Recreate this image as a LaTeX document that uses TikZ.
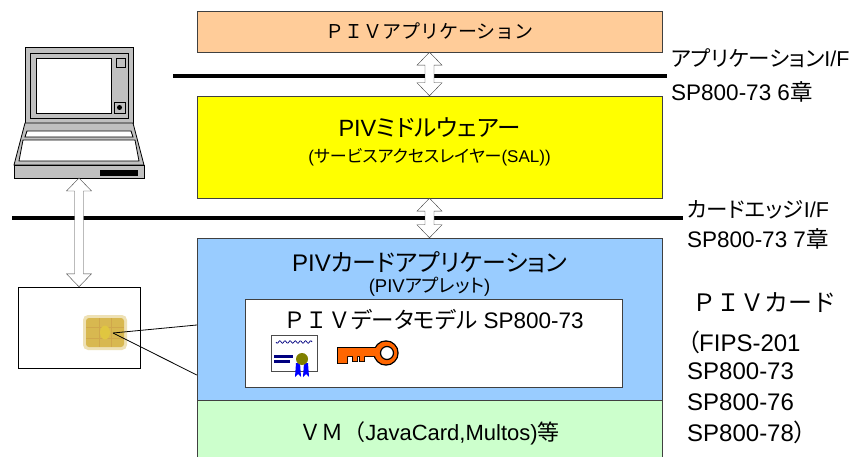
\documentclass[tikz,border=0pt]{standalone}
\usepackage{fontspec}
\setmainfont{Liberation Sans}
\newfontfamily\jp{Noto Sans CJK JP}[RawFeature=+palt]
\newfontfamily\jpmono{Noto Sans CJK JP}
\usetikzlibrary{calc,positioning}

\definecolor{appfill}{HTML}{FFCC99}
\definecolor{mwfill}{HTML}{FFFF00}
\definecolor{cardfill}{HTML}{99CCFF}
\definecolor{vmfill}{HTML}{CCFFCC}
\definecolor{keyorange}{HTML}{FF6600}
\definecolor{pcgray}{HTML}{C0C0C0}
\definecolor{chipgold}{HTML}{D8B850}
\definecolor{sealolive}{HTML}{808000}

\tikzstyle{layer}=[draw=black!75, minimum width=465pt, inner sep=0pt]
\tikzstyle{ifline}=[line width=4pt]
\tikzstyle{pc}=[draw=black, fill=pcgray, line width=0.8pt]
\tikzstyle{label}=[inner sep=0pt, font=\fontsize{21.5}{21.5}\selectfont]
\tikzstyle{spec}=[inner sep=0pt, anchor=west, font=\fontsize{24}{24}\selectfont]

% hollow double arrow, #1 above #2
\newcommand\updown[2]{%
  \draw[fill=white, draw=black!75] let \p1=(#1), \p2=(#2) in
    (\x1,\y1) -- (\x1+12.5pt,\y1-13pt) -- (\x1+4.5pt,\y1-13pt) -- (\x1+4.5pt,\y2+13pt)
    -- (\x1+12.5pt,\y2+13pt) -- (\x1,\y2) -- (\x1-12.5pt,\y2+13pt) -- (\x1-4.5pt,\y2+13pt)
    -- (\x1-4.5pt,\y1-13pt) -- (\x1-12.5pt,\y1-13pt) -- cycle;}

\begin{document}
\begin{tikzpicture}[x=1pt, y=-1pt]
    \clip (0,0) rectangle (854,457);

    % layers
    \node[layer, fill=appfill, minimum height=41pt] (app) at (429.5,31.5) {};
    \node[layer, fill=mwfill, minimum height=102pt] (mw) at (429.5,147) {};
    \node[layer, fill=cardfill, minimum height=162pt] (cardapp) at (429.5,319) {};
    \node[layer, fill=vmfill, minimum height=70pt, anchor=north] (vm) at (cardapp.south) {};
    \node[draw=black!75, fill=white, minimum width=377pt, minimum height=88pt, inner sep=0pt] (model) at (433.5,343) {};

    \node[label, font=\jpmono\fontsize{19}{19}\selectfont] (apptext) at (app) {ＰＩＶアプリケーション};
    \node[label, font=\fontsize{23.5}{23.5}\selectfont] (mwtext) at (429.5,128) {PIV{\jp ミドルウェアー}};
    \node[label, font=\fontsize{17}{17}\selectfont] (saltext) at (429.5,157) {({\jp サービスアクセスレイヤー}(SAL))};
    \node[label, font=\fontsize{24}{24}\selectfont] (cardtext) at (429.5,262) {PIV{\jp カードアプリケーション}};
    \node[label, font=\fontsize{18.5}{18.5}\selectfont] (applet) at (429.5,287) {(PIV{\jp アプレット})};
    \node[label, font=\fontsize{22.5}{22.5}\selectfont] (modeltext) at (433.5,320) {{\jpmono ＰＩＶ}{\jp データモデル} SP800-73};
    \node[label, font=\fontsize{22}{22}\selectfont] (vmtext) at (429.5,433) {{\jpmono ＶＭ（}JavaCard,Multos){\jp 等}};

    % interfaces
    \draw[ifline] (173,76) -- (667,76);
    \draw[ifline] (12,218) -- (683,218);
    \updown{app.south}{mw.north}
    \updown{mw.south}{cardapp.north}

    \node[label, anchor=west] (apif) at (671,58) {{\jp アプリケーション}I/F};
    \node[label, anchor=west, font=\fontsize{22.5}{22.5}\selectfont] (apsp) at (671,92) {SP800-73 6{\jp 章}};
    \node[label, anchor=west] (edgeif) at (687,210) {{\jp カードエッジ}I/F};
    \node[label, anchor=west, font=\fontsize{22.5}{22.5}\selectfont] (edgesp) at (687,239) {SP800-73 7{\jp 章}};

    \node[label, anchor=west, font=\jpmono\fontsize{24}{24}\selectfont] (pivcard) at (692,303) {ＰＩＶカード};
    \foreach \y/\spec in {342/{{\jp （}FIPS-201}, 371/SP800-73, 402/SP800-76, 432/{SP800-78{\jp ）}}}
        \node[spec] (spec\y) at (687,\y) {\spec};

    % certificate
    \filldraw[fill=white, draw=black!70] (271,335) rectangle (317,371);
    \draw[blue!50!black, line width=0.7pt] plot[domain=0:36, samples=40] (276+\x, {342+1.3*sin(\x*70)});
    \fill[blue!50!black] (274,355) rectangle (293,358);
    \fill[blue!50!black] (274,360) rectangle (290,363);
    \fill[blue] (296,363) -- (300,363) -- (301,377) -- (298,374) -- (295,377) -- cycle;
    \fill[blue] (304,363) -- (308,363) -- (309,377) -- (306,374) -- (303,377) -- cycle;
    \fill[sealolive] (302,359) circle (6pt);

    % key
    \filldraw[fill=keyorange, draw=black, line width=1.4pt]
        (338,348) -- (378,348) -- (378,356) -- (364,356) -- (364,361) -- (360,361) -- (360,356)
        -- (357,356) -- (357,361) -- (353,361) -- (353,356) -- (347,356) -- (347,363) -- (338,363) -- cycle;
    \filldraw[fill=keyorange, draw=black, line width=1.4pt] (386,353) circle (12pt);
    \fill[keyorange] (338,348) -- (378,348) -- (378,356) -- (364,356) -- (364,361) -- (360,361) -- (360,356)
        -- (357,356) -- (357,361) -- (353,361) -- (353,356) -- (347,356) -- (347,363) -- (338,363) -- cycle;
    \fill[keyorange] (386,353) circle (11.3pt);
    \filldraw[fill=white, draw=black, line width=1.2pt] (387,353) circle (6.5pt);

    % laptop
    \draw[pc] (25,47) rectangle (133,123);
    \draw[pc] (30,53) rectangle (128,118);
    \draw[pc, fill=white] (36,58) rectangle (111,113);
    \draw[pc] (116,58) rectangle (125,67);
    \draw[pc] (114,102) rectangle (125,113);
    \fill (119.5,107.5) circle (2.5pt);
    \draw[pc] (25,123) -- (133,123) -- (144,165) -- (14,165) -- cycle;
    \draw[pc, fill=white] (27,131) -- (131,131) -- (133,137) -- (25,137) -- cycle;
    \draw[pc, fill=white] (23,140) -- (135,140) -- (139,161) -- (19,161) -- cycle;
    \draw[pc] (14,165) rectangle (144,178);
    \fill (100,170) rectangle (138,176);
    \coordinate (pcbase) at (79,178);

    % card with chip
    \node[draw=black, fill=white, minimum width=122pt, minimum height=81pt, inner sep=0pt] (card) at (79,327.5) {};
    \fill[chipgold!70, opacity=0.6, rounded corners=5pt] (83,315) rectangle (127,350);
    \fill[chipgold, rounded corners=3pt] (86,318) rectangle (124,347);
    \draw[chipgold!60!brown, line width=1pt, opacity=0.7] (86,327) -- (124,327) (86,338) -- (124,338)
        (99,318) -- (99,347) (111,318) -- (111,347);
    \fill[chipgold!80!yellow] (105,332.5) ellipse (5pt and 7pt);
    \coordinate (chip) at (113,333);
    \updown{pcbase}{card.north}

    \draw[black, line width=0.8pt] (chip) -- (cardapp.west |- 0,325);
    \draw[black, line width=0.8pt] (chip) -- (cardapp.west |- 0,375);
\end{tikzpicture}
\end{document}
